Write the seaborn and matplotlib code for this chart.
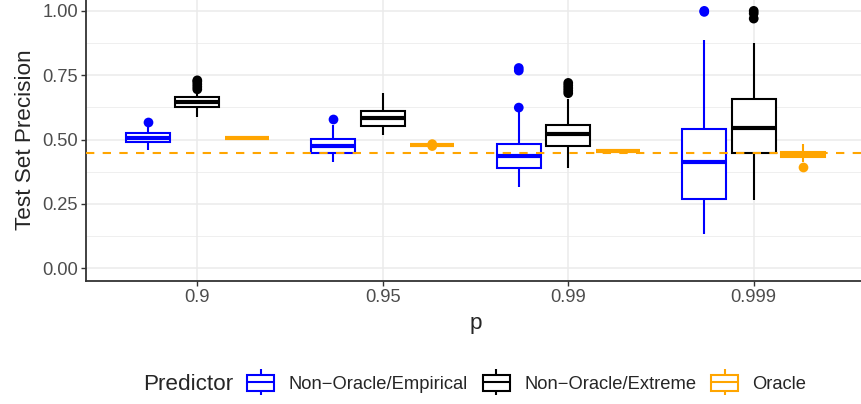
import numpy as np
import pandas as pd
import matplotlib
matplotlib.use("Agg")
import matplotlib.pyplot as plt
from matplotlib.lines import Line2D
from matplotlib.patches import Patch
from matplotlib.legend_handler import HandlerTuple
import seaborn as sns

p_levels = ["0.9", "0.95", "0.99", "0.999"]
predictors = ["Non\u2212Oracle/Empirical", "Non\u2212Oracle/Extreme", "Oracle"]
colors = ["#0000FF", "#000000", "#FFA500"]

# box summaries, one per p: whisker low, Q1, median, Q3, whisker high
empirical_box = [[0.459, 0.489, 0.505, 0.524, 0.553],
                 [0.414, 0.446, 0.476, 0.501, 0.556],
                 [0.316, 0.390, 0.436, 0.482, 0.608],
                 [0.132, 0.267, 0.411, 0.542, 0.887]]
extreme_box = [[0.589, 0.628, 0.646, 0.664, 0.686],
               [0.518, 0.554, 0.582, 0.612, 0.680],
               [0.388, 0.476, 0.520, 0.556, 0.658],
               [0.265, 0.446, 0.546, 0.656, 0.877]]
oracle_box = [[0.503, 0.504, 0.505, 0.507, 0.508],
              [0.4765, 0.477, 0.478, 0.479, 0.4795],
              [0.451, 0.454, 0.455, 0.456, 0.458],
              [0.414, 0.432, 0.441, 0.452, 0.482]]

# outlying points
empirical_out = [[0.569], [0.580], [0.624, 0.768, 0.778], [0.996, 1.0]]
extreme_out = [[0.695, 0.705, 0.715, 0.725, 0.73], [], [0.68, 0.69, 0.70, 0.71, 0.72], [0.97, 0.99, 1.0]]
oracle_out = [[], [0.4745, 0.482], [], [0.392]]

threshold = 0.449


def to_long(groups):
    rows = []
    for name, per_p in zip(predictors, groups):
        for p, vals in zip(p_levels, per_p):
            for v in vals:
                rows.append((p, name, v))
    return pd.DataFrame(rows, columns=["p", "Predictor", "precision"])


box_df = to_long([empirical_box, extreme_box, oracle_box])
out_df = to_long([empirical_out, extreme_out, oracle_out])

sns.set_style("white")
plt.rcParams["font.family"] = ["Liberation Sans", "DejaVu Sans"]

fig = plt.figure(figsize=(8.62, 4.04), dpi=100)
ax = fig.add_axes([86 / 862, 123 / 404, 779 / 862, 283 / 404])

# one call per predictor so each box gets its own outline colour on a white fill
for name, col in zip(predictors, colors):
    sns.boxplot(data=box_df[box_df["Predictor"] == name], x="p", y="precision", hue="Predictor",
                order=p_levels, hue_order=predictors, palette=colors, dodge=True, width=0.8,
                gap=0.11, whis=(0, 100), showcaps=False, showfliers=False, fill=True,
                linecolor=col, linewidth=1.5, boxprops={"facecolor": "white"},
                medianprops={"linewidth": 3}, legend=False, ax=ax)

sns.stripplot(data=out_df, x="p", y="precision", hue="Predictor", order=p_levels,
              hue_order=predictors, palette=colors, dodge=True, jitter=False, size=7,
              linewidth=0, legend=False, ax=ax, zorder=4)

ax.axhline(threshold, color="#FFA500", lw=1.5, ls=(0, (4, 4)), zorder=6)

ax.set_xlim(-0.6, 3.6)
ax.set_ylim(-0.05, 1.05)
ax.set_yticks([0, 0.25, 0.5, 0.75, 1.0])
ax.set_yticklabels(["0.00", "0.25", "0.50", "0.75", "1.00"])
ax.set_yticks([0.125, 0.375, 0.625, 0.875], minor=True)
ax.grid(which="major", color="#EBEBEB", lw=1.1)
ax.grid(which="minor", axis="y", color="#EBEBEB", lw=0.55)
ax.set_axisbelow(True)
ax.tick_params(which="minor", length=0)
ax.tick_params(which="major", length=3.6, width=1, color="#333333", labelcolor="#4D4D4D",
               labelsize=13.2, pad=2, left=True, bottom=True)
for s in ax.spines.values():
    s.set_color("#333333")
    s.set_linewidth(1.3)

ax.set_xlabel("p", fontsize=16.2, labelpad=5)
ax.set_ylabel("Test Set Precision", fontsize=16.2, labelpad=5)

fig.text(143 / 862, 1 - 384 / 404, "Predictor", fontsize=16.2, va="center", ha="left")
handles = [(Line2D([], [], color=c, marker="|", markersize=19, mew=1.5, ls="none"),
            Patch(facecolor="white", edgecolor=c, lw=1.5),
            Line2D([], [], color=c, lw=1.5)) for c in colors]
fig.legend(handles, predictors, handler_map={tuple: HandlerTuple(ndivide=1, pad=0)},
           loc="center left", bbox_to_anchor=(247 / 862, 1 - 384 / 404), ncol=3, frameon=False,
           fontsize=13.2, handlelength=1.5, handleheight=0.95, handletextpad=0.77,
           columnspacing=0.8, numpoints=1, borderpad=0, borderaxespad=0)

fig.savefig("out.png", dpi=100)
